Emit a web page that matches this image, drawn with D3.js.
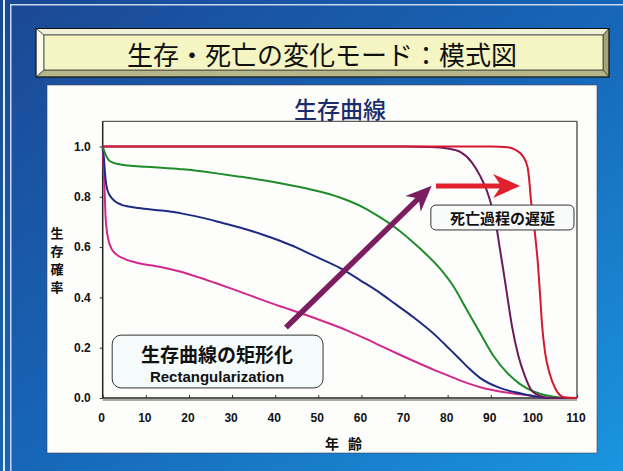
<!DOCTYPE html>
<html lang="ja">
<head>
<meta charset="UTF-8">
<title>生存・死亡の変化モード：模式図</title>
<style>
  body { margin: 0; background: #1a5aa8; }
  svg { display: block; }
  .tick text { font-family: "Liberation Sans", Arial, sans-serif; font-weight: bold; font-size: 12px; fill: #111; }
  .tick line { stroke: #333; }
  .jp { font-family: "Noto Sans CJK JP", sans-serif; }
  .line { fill: none; stroke-width: 2; stroke-linejoin: round; }
</style>
</head>
<body>
<svg id="container" width="623" height="471"></svg>
<script src="https://cdn.jsdelivr.net/npm/d3@7"></script>
<script>
// tick values
const ageTicks = [0, 10, 20, 30, 40, 50, 60, 70, 80, 90, 100, 110]
const survTicks = [0, 0.2, 0.4, 0.6, 0.8, 1.0]

// survival curves: [age, survival]
const magentaCurve = [[0,1],[0.2,0.92],[0.4,0.84],[0.7,0.71],[1.3,0.63],[2,0.595],[2.9,0.575],[5.2,0.552],[8.7,0.535],
  [13.7,0.52],[17.9,0.503],[22.6,0.478],[26,0.458],[29.5,0.437],[31.8,0.423],[36,0.396],[41.1,0.365],[43.4,0.352],
  [47.3,0.329],[53.5,0.29],[57,0.266],[61.2,0.234],[65,0.203],[68.9,0.172],[72,0.148],[76.7,0.113],[80,0.09],[84.4,0.06],
  [88,0.041],[92.1,0.026],[96,0.016],[99.1,0.01],[101,0.004],[103,0],[110,0]]
const blueCurve = [[0,1],[0.3,0.95],[0.5,0.9],[0.9,0.84],[1.5,0.81],[2.1,0.795],[3,0.78],[4.4,0.768],[6,0.761],[8.3,0.755],
  [13.7,0.745],[18.5,0.733],[23.7,0.714],[28,0.695],[31.8,0.678],[37,0.65],[41.1,0.625],[45,0.598],[48.8,0.567],[55,0.517],
  [60,0.465],[64.3,0.418],[68,0.372],[72,0.322],[77.5,0.244],[80,0.202],[82.9,0.153],[85,0.117],[87.5,0.08],[92.1,0.04],
  [96.8,0.019],[99.8,0.008],[102,0.002],[104,0],[110,0]]
const greenCurve = [[0,1],[0.5,0.975],[1.3,0.948],[2.5,0.935],[3.6,0.93],[5.9,0.924],[10,0.919],[13.7,0.915],[18.7,0.909],
  [21.4,0.904],[26,0.894],[31.8,0.88],[39.6,0.859],[47.3,0.833],[52.7,0.81],[55,0.797],[60.4,0.758],[64,0.722],[68.2,0.673],
  [73.6,0.594],[78.2,0.515],[81.3,0.445],[84.4,0.352],[87.5,0.259],[90.6,0.168],[93.7,0.102],[96.8,0.055],[99.9,0.026],
  [103,0.01],[106,0.002],[110,0]]
const purpleCurve = [[0,1],[70,1],[76,0.998],[80,0.992],[82.9,0.978],[85.6,0.937],[87.5,0.884],[89.1,0.824],[90.2,0.763],
  [91.4,0.672],[92.1,0.595],[92.8,0.52],[93.7,0.42],[94.9,0.288],[96.4,0.168],[97.9,0.088],[99.5,0.029],[101.4,0.008],
  [104,0],[110,0]]
const redCurve = [[0,1],[90,1],[94,0.997],[95.9,0.985],[97.5,0.96],[98.5,0.92],[98.9,0.87],[99.3,0.79],[99.9,0.71],
  [100.4,0.63],[100.9,0.54],[101.4,0.42],[101.9,0.29],[102.6,0.18],[103.6,0.1],[104.9,0.04],[105.9,0.014],[107,0.003],[110,0]]

const svg = d3.select("#container")

// slide background
let defs = svg.append("defs")
let grad = defs.append("linearGradient").attr("id", "bg")
    .attr("x1", 0).attr("y1", 0).attr("x2", 1).attr("y2", 1)
grad.append("stop").attr("offset", 0).attr("stop-color", "#1b4893")
grad.append("stop").attr("offset", 0.5).attr("stop-color", "#1765b7")
grad.append("stop").attr("offset", 1).attr("stop-color", "#1a95df")
svg.append("rect").attr("width", 623).attr("height", 471).attr("fill", "url(#bg)")
svg.append("rect").attr("x", 3).attr("y", 0).attr("width", 2).attr("height", 471).attr("fill", "#e6eef8")
svg.append("rect").attr("x", 10).attr("y", 5).attr("width", 1.5).attr("height", 466).attr("fill", "#c8d8f0")
svg.append("rect").attr("x", 10).attr("y", 4).attr("width", 613).attr("height", 1.5).attr("fill", "#c8d8f0")

// title plate with bevel
let L = 36, T = 28.5, R = 609, B = 77, l = 44, t = 35, r = 603, b = 70
let plate = svg.append("g")
let faces = [
    [[L,T],[R,T],[r,t],[l,t], "#f1f1d8"],
    [[L,T],[l,t],[l,b],[L,B], "#fbfbee"],
    [[R,T],[R,B],[r,b],[r,t], "#a4a479"],
    [[L,B],[l,b],[r,b],[R,B], "#b6b68b"]
]
faces.forEach(f => {
    plate.append("polygon").attr("points", f.slice(0, 4).join(" "))
        .attr("fill", f[4]).attr("stroke", "#333").attr("stroke-width", 0.6)
})
plate.append("rect").attr("x", l).attr("y", t).attr("width", r - l).attr("height", b - t)
    .attr("fill", "#f4f5c3").attr("stroke", "#333").attr("stroke-width", 0.8)
plate.append("rect").attr("x", L).attr("y", T).attr("width", R - L).attr("height", B - T)
    .attr("fill", "none").attr("stroke", "#111").attr("stroke-width", 1)
plate.append("text").attr("class", "jp")
    .attr("x", 322).attr("y", 53).attr("text-anchor", "middle").attr("dominant-baseline", "central")
    .attr("font-size", 26).attr("fill", "#111")
    .text("生存・死亡の変化モード：模式図")

// white chart panel
svg.append("rect").attr("x", 47).attr("y", 85).attr("width", 550).attr("height", 368)
    .attr("fill", "#fdfefc").attr("stroke", "#445").attr("stroke-width", 0.6)

let xScale = d3.scaleLinear().domain([0, 110]).range([102.7, 577])
let yScale = d3.scaleLinear().domain([0, 1.1]).range([398, 121.3])

svg.append("text").attr("class", "jp")
    .attr("x", 340).attr("y", 108).attr("text-anchor", "middle").attr("dominant-baseline", "central")
    .attr("font-size", 23).attr("font-weight", 500).attr("fill", "#1c2d6c")
    .text("生存曲線")

// axes
svg.append("g")
    .attr("transform", "translate(" + xScale(0) + ",0)")
    .call(d3.axisLeft(yScale).tickValues(survTicks).tickSize(3).tickPadding(9)
        .tickFormat(d3.format(".1f")))
    .call(g => g.select(".domain").remove())

svg.append("g")
    .attr("transform", "translate(0," + yScale(0) + ")")
    .call(d3.axisBottom(xScale).tickValues(ageTicks).tickSize(-3).tickPadding(15))
    .call(g => g.select(".domain").remove())
    .call(g => g.selectAll(".tick text").attr("dx", -1.5))

// frame
svg.append("line").attr("x1", xScale(0)).attr("x2", xScale(110))
    .attr("y1", yScale(1.1)).attr("y2", yScale(1.1)).attr("stroke", "#333").attr("stroke-width", 1)
svg.append("line").attr("x1", xScale(110)).attr("x2", xScale(110))
    .attr("y1", yScale(1.1)).attr("y2", yScale(0)).attr("stroke", "#333").attr("stroke-width", 1.2)
svg.append("line").attr("x1", xScale(0)).attr("x2", xScale(0))
    .attr("y1", yScale(1.1)).attr("y2", yScale(0)).attr("stroke", "#222").attr("stroke-width", 1.5)
svg.append("line").attr("x1", xScale(0)).attr("x2", xScale(110))
    .attr("y1", yScale(0) + 2).attr("y2", yScale(0) + 2).attr("stroke", "#8a8a8a").attr("stroke-width", 1.6)
svg.append("line").attr("x1", xScale(0)).attr("x2", xScale(110))
    .attr("y1", yScale(0)).attr("y2", yScale(0)).attr("stroke", "#222").attr("stroke-width", 1.5)

// axis titles
let yTitle = ["生", "存", "確", "率"]
svg.selectAll(".ytitle").data(yTitle).enter().append("text")
    .attr("class", "jp").attr("x", 57).attr("y", (d, i) => 232 + i * 18)
    .attr("text-anchor", "middle").attr("dominant-baseline", "central")
    .attr("font-size", 13).attr("font-weight", "bold").attr("fill", "#111")
    .text(d => d)
let xTitle = ["年", "齢"]
svg.selectAll(".xtitle").data(xTitle).enter().append("text")
    .attr("class", "jp").attr("x", (d, i) => 332 + i * 23).attr("y", 443)
    .attr("text-anchor", "middle").attr("dominant-baseline", "central")
    .attr("font-size", 14).attr("font-weight", "bold").attr("fill", "#111")
    .text(d => d)

// curves
let line = d3.line()
    .x(d => xScale(d[0]))
    .y(d => yScale(d[1]))
    .curve(d3.curveMonotoneX)

let series = [
    [magentaCurve, "#d2288c"],
    [blueCurve, "#1e2b82"],
    [greenCurve, "#1f8c2a"],
    [purpleCurve, "#6c1a5c"],
    [redCurve, "#d6182c"]
]
series.forEach(s => {
    svg.append("path").datum(s[0]).attr("class", "line")
        .attr("stroke", s[1]).attr("d", line)
})

// arrows
function arrow(x1, y1, x2, y2, color, width, headLen, headHalf) {
    let dx = x2 - x1, dy = y2 - y1
    let len = Math.sqrt(dx * dx + dy * dy)
    let ux = dx / len, uy = dy / len
    let px = -uy, py = ux
    let notch = headLen * 0.7
    svg.append("line")
        .attr("x1", x1).attr("y1", y1)
        .attr("x2", x2 - ux * notch).attr("y2", y2 - uy * notch)
        .attr("stroke", color).attr("stroke-width", width)
    let pts = [
        [x2, y2],
        [x2 - ux * headLen + px * headHalf, y2 - uy * headLen + py * headHalf],
        [x2 - ux * notch, y2 - uy * notch],
        [x2 - ux * headLen - px * headHalf, y2 - uy * headLen - py * headHalf]
    ]
    svg.append("polygon").attr("points", pts.join(" ")).attr("fill", color)
}

arrow(xScale(42.5), yScale(0.28), xScale(76.3), yScale(0.844), "#7b1d5e", 5.5, 26, 11)
arrow(xScale(77.3), yScale(0.843), xScale(96.8), yScale(0.843), "#e0202c", 5, 27, 12)

// label boxes
svg.append("rect")
    .attr("x", xScale(76.1)).attr("y", yScale(0.767))
    .attr("width", xScale(109.3) - xScale(76.1)).attr("height", yScale(0.668) - yScale(0.767))
    .attr("rx", 5).attr("fill", "#f9fafa").attr("stroke", "#333").attr("stroke-width", 1)
svg.append("text").attr("class", "jp")
    .attr("x", (xScale(76.1) + xScale(109.3)) / 2).attr("y", (yScale(0.767) + yScale(0.668)) / 2)
    .attr("text-anchor", "middle").attr("dominant-baseline", "central")
    .attr("font-size", 15).attr("font-weight", "bold").attr("fill", "#111")
    .text("死亡過程の遅延")

svg.append("rect")
    .attr("x", xScale(2.2)).attr("y", yScale(0.25))
    .attr("width", xScale(51.1) - xScale(2.2)).attr("height", yScale(0.04) - yScale(0.25))
    .attr("rx", 9).attr("fill", "#f5fafb").attr("stroke", "#333").attr("stroke-width", 1)
svg.append("text").attr("class", "jp")
    .attr("x", 217).attr("y", 353)
    .attr("text-anchor", "middle").attr("dominant-baseline", "central")
    .attr("font-size", 19).attr("font-weight", "bold").attr("fill", "#111")
    .text("生存曲線の矩形化")
svg.append("text")
    .attr("x", 217).attr("y", 376)
    .attr("text-anchor", "middle").attr("dominant-baseline", "central")
    .attr("font-family", "Liberation Sans, Arial, sans-serif")
    .attr("font-size", 15).attr("font-weight", "bold").attr("fill", "#111")
    .text("Rectangularization")
</script>
</body>
</html>
